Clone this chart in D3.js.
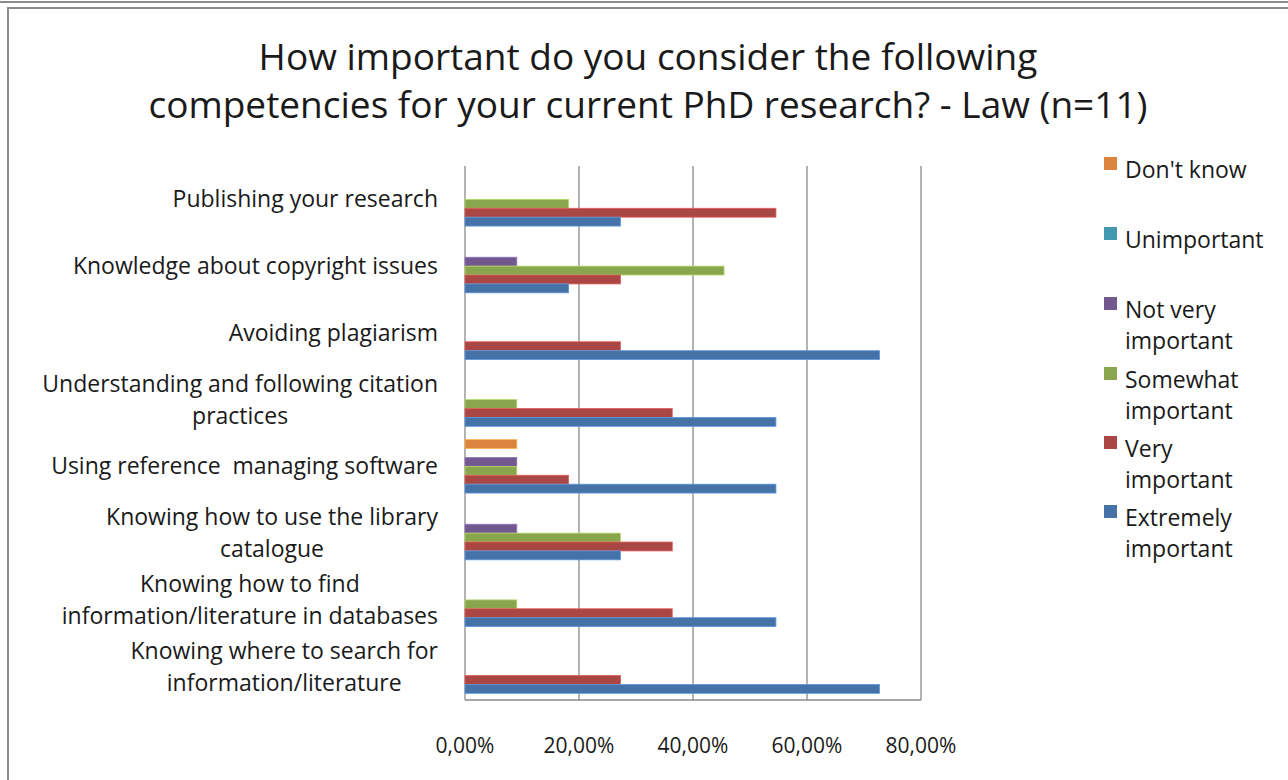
<!DOCTYPE html>
<html lang="en">
<head>
  <meta charset="UTF-8">
  <title>Competencies - Law</title>
  <script src="https://d3js.org/d3.v7.min.js"></script>
  <style>
    body { margin: 0; background: #fff; }
    text { font-family: "Open Sans", Lato, sans-serif; fill: #1a1a1a; }
  </style>
</head>
<body>
  <svg id="chart" width="1288" height="780"></svg>

  <script>
    // category labels, top to bottom (already split into wrapped lines)
    const categories = [
      ["Publishing your research"],
      ["Knowledge about copyright issues"],
      ["Avoiding plagiarism"],
      ["Understanding and following citation", "practices"],
      ["Using reference  managing software"],
      ["Knowing how to use the library", "catalogue"],
      ["Knowing how to find", "information/literature in databases"],
      ["Knowing where to search for", "information/literature"]
    ];

    const seriesNames = ["Don't know", "Unimportant", "Not very important",
      "Somewhat important", "Very important", "Extremely important"];
    const legendLines = [["Don't know"], ["Unimportant"], ["Not very", "important"],
      ["Somewhat", "important"], ["Very", "important"], ["Extremely", "important"]];
    const seriesColors = ["#db843d", "#4198af", "#71588f", "#89a54e", "#aa4643", "#4572a7"];

    // percentages per category, one array per series
    const dontKnow      = [0, 0, 0, 0, 9.09, 0, 0, 0];
    const unimportant   = [0, 0, 0, 0, 0, 0, 0, 0];
    const notVery       = [0, 9.09, 0, 0, 9.09, 9.09, 0, 0];
    const somewhat      = [18.18, 45.45, 0, 9.09, 9.09, 27.27, 9.09, 0];
    const veryImp       = [54.55, 27.27, 27.27, 36.36, 18.18, 36.36, 36.36, 27.27];
    const extremely     = [27.27, 18.18, 72.73, 54.55, 54.55, 27.27, 54.55, 72.73];
    const seriesValues = [dontKnow, unimportant, notVery, somewhat, veryImp, extremely];

    const xTicks = [0, 20, 40, 60, 80];
    const titleLines = ["How important do you consider the following",
      "competencies for your current PhD research? - Law (n=11)"];

    const svg = d3.select("#chart");

    // outer frame
    svg.append("line").attr("x1", 0).attr("x2", 1288).attr("y1", 2).attr("y2", 2)
      .attr("stroke", "#8c8c8c").attr("stroke-width", 2);
    svg.append("rect").attr("x", 8).attr("y", 8).attr("width", 1300).attr("height", 800)
      .attr("fill", "none").attr("stroke", "#8c8c8c").attr("stroke-width", 2);

    const plot = { left: 465, right: 921, top: 166, bottom: 700 };

    const x = d3.scaleLinear().domain([0, 80]).range([plot.left, plot.right]);
    const y = d3.scaleBand().domain(d3.range(categories.length))
      .range([plot.top, plot.bottom]).paddingInner(0.2).paddingOuter(0.1);
    const band = d3.scaleBand().domain(d3.range(seriesNames.length))
      .range([0, y.bandwidth()]);

    // title
    svg.append("g").selectAll("text").data(titleLines).join("text")
      .attr("x", 648).attr("y", (d, i) => 70 + i * 48)
      .attr("text-anchor", "middle").attr("font-size", 37).text(d => d);

    // gridlines
    svg.append("g").selectAll("line").data(xTicks).join("line")
      .attr("x1", d => x(d)).attr("x2", d => x(d))
      .attr("y1", plot.top).attr("y2", plot.bottom)
      .attr("stroke", "#8a8a8a").attr("stroke-width", 1.3);

    // plot box bottom
    svg.append("line").attr("x1", plot.left).attr("x2", plot.right)
      .attr("y1", plot.bottom).attr("y2", plot.bottom)
      .attr("stroke", "#8a8a8a").attr("stroke-width", 1.3);

    // bars
    seriesValues.forEach((vals, s) => {
      const pts = vals.map((v, i) => ({ i, v })).filter(d => d.v > 0);
      svg.append("g").selectAll("rect").data(pts).join("rect")
        .attr("x", x(0))
        .attr("y", d => y(d.i) + band(s))
        .attr("width", d => x(d.v) - x(0))
        .attr("height", band.bandwidth())
        .attr("fill", seriesColors[s])
        .attr("stroke", d3.color(seriesColors[s]).brighter(0.8))
        .attr("stroke-width", 0.8);
    });

    // category labels
    const lineH = 32;
    categories.forEach((lines, i) => {
      const cy = y(i) + y.bandwidth() / 2;
      const g = svg.append("g");
      const t = g.selectAll("text").data(lines).join("text")
        .attr("y", (d, k) => cy + (k - (lines.length - 1) / 2) * lineH + 8)
        .attr("font-size", 23).text(d => d)
        .attr("xml:space", "preserve");
      const w = d3.max(t.nodes(), n => n.getComputedTextLength());
      t.attr("x", 438 - w / 2).attr("text-anchor", "middle");
    });

    // x tick labels
    svg.append("g").selectAll("text").data(xTicks).join("text")
      .attr("x", d => x(d)).attr("y", 753)
      .attr("text-anchor", "middle").attr("font-size", 21)
      .text(d => d3.format(".2f")(d).replace(".", ",") + "%");

    // legend
    const legendY = [170, 240, 310, 380, 449, 518];
    legendLines.forEach((lines, s) => {
      const g = svg.append("g");
      g.append("rect").attr("x", 1104).attr("y", legendY[s] - 13)
        .attr("width", 13).attr("height", 13).attr("fill", seriesColors[s]);
      g.selectAll("text").data(lines).join("text")
        .attr("x", 1125).attr("y", (d, k) => legendY[s] + 8 + k * 31)
        .attr("font-size", 23).text(d => d);
    });
  </script>
</body>
</html>
